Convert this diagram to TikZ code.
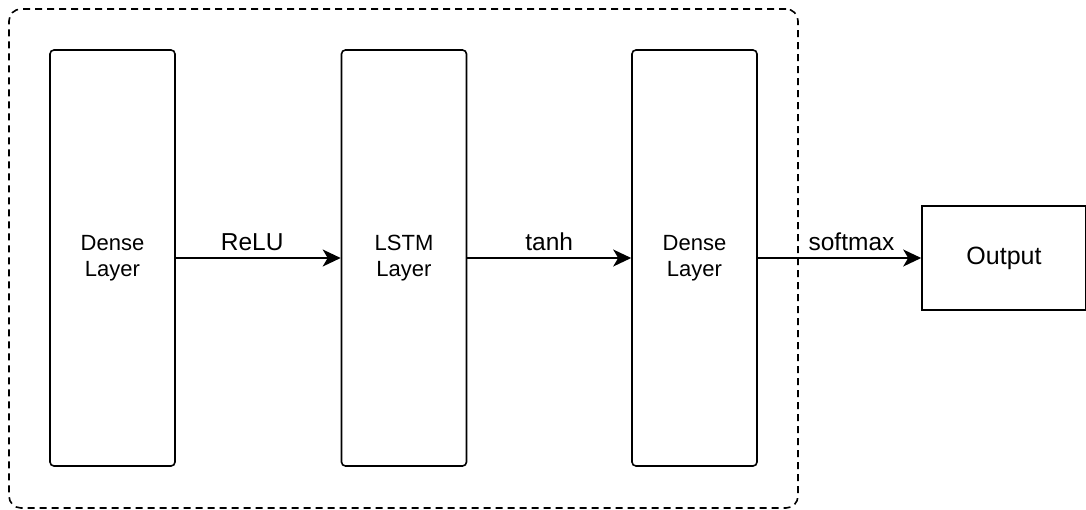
\documentclass[tikz,border=0pt]{standalone}
\usepackage{fontspec}
\setmainfont{Liberation Sans}
\usetikzlibrary{arrows.meta, positioning}
\definecolor{textdark}{RGB}{0, 0, 0}

\begin{document}
\begin{tikzpicture}[
    x=1pt, y=-1pt,
    layer/.style={rectangle, draw=textdark, rounded corners=4pt, minimum width=125pt, minimum height=416pt, align=center, font=\fontsize{22}{26}\selectfont, line width=1.6pt, inner sep=0pt},
    outbox/.style={rectangle, draw=textdark, minimum width=164pt, minimum height=104pt, font=\fontsize{25}{30}\selectfont, line width=1.6pt},
    lbl/.style={font=\fontsize{24.5}{29}\selectfont, inner sep=0pt, above=6pt},
    arrow/.style={-{Stealth[length=18pt, width=17pt, inset=5pt]}, line width=1.6pt, color=textdark},
]
\useasboundingbox (0,0) rectangle (1086,509);

% Model block
\node[rectangle, draw=textdark, dash pattern=on 7pt off 5pt, rounded corners=12pt, minimum width=789pt, minimum height=499pt, line width=1.6pt] (block) at (403.5, 258.5) {};

% Layers
\node[layer] (dense1) at (112.5, 258) {Dense\\Layer};
\node[layer] (lstm) at (404, 258) {LSTM\\Layer};
\node[layer] (dense2) at (694.5, 258) {Dense\\Layer};

% Output
\node[outbox] (out) at (1004, 258) {Output};

% Activations
\draw[arrow] (dense1) -- node[lbl, xshift=-6pt] {ReLU} (lstm);
\draw[arrow] (lstm) -- node[lbl] {tanh} (dense2);
\draw[arrow] (dense2) -- node[lbl, xshift=12pt] {softmax} (out);

\end{tikzpicture}
\end{document}
